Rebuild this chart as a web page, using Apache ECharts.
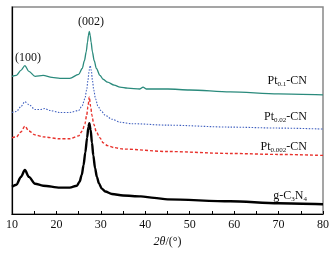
<!DOCTYPE html>
<html>
<head>
<meta charset="utf-8">
<script src="https://cdn.jsdelivr.net/npm/echarts@6/dist/echarts.min.js"></script>
<style>html,body{margin:0;padding:0;background:#fff;}#c{width:336px;height:253px;}</style>
</head>
<body>
<div id="c"></div>
<script>
// 2θ values (degrees) and relative intensities (arbitrary units)
var pt01X = [10, 11, 12, 12.9, 13.8, 15.2, 17, 19, 20.8, 23, 25.0, 25.8, 26.3, 26.7, 27.0, 27.2, 27.4, 27.6, 27.8, 28.1, 28.5, 29.0, 29.8, 30.5, 31.5, 33, 34.3, 36, 38.8, 39.5, 40.2, 45.1, 50, 59.1, 70, 80];
var pt01Y = [141, 142, 147, 152, 146, 141, 142, 140, 139, 139, 143, 149, 157, 166, 176, 183, 187, 183, 176, 166, 157, 149, 142, 138, 135, 132, 130, 129, 128, 130, 128, 128, 127, 125, 123, 122];

var pt002X = [10, 11, 12, 12.9, 13.8, 15.2, 16.5, 17.4, 18.5, 20.8, 23, 25.0, 25.8, 26.4, 26.8, 27.1, 27.35, 27.6, 27.85, 28.1, 28.4, 28.8, 29.3, 30, 31, 32.5, 34.3, 37, 45, 59.1, 70, 80];
var pt002Y = [104, 105, 110, 115, 112, 107, 107, 108, 106, 104, 104, 106, 111, 118, 127, 137, 147, 152, 147, 137, 127, 118, 111, 106, 101, 97, 94, 92.5, 91, 89, 88, 87];

var pt0002X = [10, 11, 12, 12.9, 13.8, 15.2, 17, 20.8, 23, 25.0, 25.8, 26.4, 26.8, 27.1, 27.4, 27.7, 28.0, 28.4, 29.0, 29.8, 30.5, 31.5, 33, 35, 45, 59.1, 70, 80];
var pt0002Y = [78, 79, 84, 90, 85, 81, 79, 77, 77, 80, 85, 92, 101, 110, 120, 110, 101, 92, 84, 78, 73, 70, 68, 66.5, 64, 62, 61, 60];

var gcnX = [10, 11, 12, 12.9, 13.8, 15.2, 17, 20.8, 23, 24.6, 25.2, 25.7, 26.1, 26.5, 26.9, 27.2, 27.4, 27.7, 28.0, 28.3, 28.7, 29.1, 29.6, 30.2, 31, 32.5, 35, 39, 42, 45, 59.1, 70, 80];
var gcnY = [28, 30, 38, 45, 38, 31, 29, 27, 27, 29, 33, 40, 50, 63, 78, 89, 93, 86, 73, 60, 47, 38, 31, 26, 23, 20.5, 19, 18, 16.5, 15, 13, 11, 10];

var xTicks = [10, 20, 30, 40, 50, 60, 70, 80];

function pairs(xs, ys) { return xs.map(function (x, i) { return [x, ys[i]]; }); }

var serif = '"Liberation Serif", "DejaVu Serif", serif';
var chart = echarts.init(document.getElementById('c'), null, { renderer: 'canvas' });

function lbl(x, y, text, rich) {
  return {
    type: 'text',
    x: x, y: y,
    style: {
      text: text, fill: '#111', font: '12px ' + serif,
      align: 'right', verticalAlign: 'middle',
      rich: rich
    }
  };
}
var subRich = {
  m: { fontFamily: serif, fontSize: 12, color: '#111', lineHeight: 14, verticalAlign: 'middle' },
  s: { fontFamily: serif, fontSize: 7, color: '#111', lineHeight: 14, verticalAlign: 'bottom', padding: [4, 0, 0, 0] }
};

chart.setOption({
  animation: false,
  backgroundColor: '#fff',
  grid: { left: 12, right: 13, top: 7, bottom: 34, show: true, borderColor: '#888', borderWidth: 1.5, backgroundColor: 'transparent' },
  xAxis: {
    type: 'value', min: 10, max: 80, interval: 10,
    axisLine: { show: true, lineStyle: { color: '#000', width: 1.2 } },
    axisTick: { show: true, inside: true, length: 3, lineStyle: { color: '#000' } },
    minorTick: { show: true, splitNumber: 2, length: 3, lineStyle: { color: '#000' } },
    axisLabel: {
      fontFamily: serif, fontSize: 12, color: '#111', margin: 5,
      formatter: function (v) { return xTicks.indexOf(v) >= 0 ? String(v) : ''; }
    },
    splitLine: { show: false },
    name: '{i|2θ}/(°)', nameLocation: 'middle', nameGap: 22,
    nameTextStyle: {
      fontFamily: serif, fontSize: 12, color: '#111',
      rich: { i: { fontFamily: serif, fontSize: 12, fontStyle: 'italic', color: '#111' } }
    }
  },
  yAxis: {
    type: 'value', min: 0, max: 212,
    axisLine: { show: true, lineStyle: { color: '#000', width: 1.2 } },
    axisTick: { show: false }, axisLabel: { show: false }, splitLine: { show: false }
  },
  series: [
    { name: 'Pt0.1-CN', type: 'line', data: pairs(pt01X, pt01Y), showSymbol: false, smooth: 0.3, smoothMonotone: 'x',
      lineStyle: { color: '#2a8a7c', width: 1.3 } },
    { name: 'Pt0.02-CN', type: 'line', data: pairs(pt002X, pt002Y), showSymbol: false, smooth: 0.3, smoothMonotone: 'x',
      lineStyle: { color: '#3f5fbf', width: 1.1, type: [1.5, 1.5] } },
    { name: 'Pt0.002-CN', type: 'line', data: pairs(pt0002X, pt0002Y), showSymbol: false, smooth: 0.3, smoothMonotone: 'x',
      lineStyle: { color: '#e8322c', width: 1.4, type: [3, 2] } },
    { name: 'g-C3N4', type: 'line', data: pairs(gcnX, gcnY), showSymbol: false, smooth: 0.3, smoothMonotone: 'x',
      lineStyle: { color: '#000', width: 2.4 } }
  ],
  graphic: [
    { type: 'text', x: 91, y: 22, style: { text: '(002)', font: '12px ' + serif, fill: '#111', align: 'center', verticalAlign: 'middle' } },
    { type: 'text', x: 28, y: 58, style: { text: '(100)', font: '12px ' + serif, fill: '#111', align: 'center', verticalAlign: 'middle' } },
    lbl(307, 81, '{m|Pt}{s|0.1}{m|-CN}', subRich),
    lbl(307, 117, '{m|Pt}{s|0.02}{m|-CN}', subRich),
    lbl(307, 147, '{m|Pt}{s|0.002}{m|-CN}', subRich),
    lbl(307, 196, '{m|g-C}{s|3}{m|N}{s|4}', subRich)
  ]
});
</script>
</body>
</html>
